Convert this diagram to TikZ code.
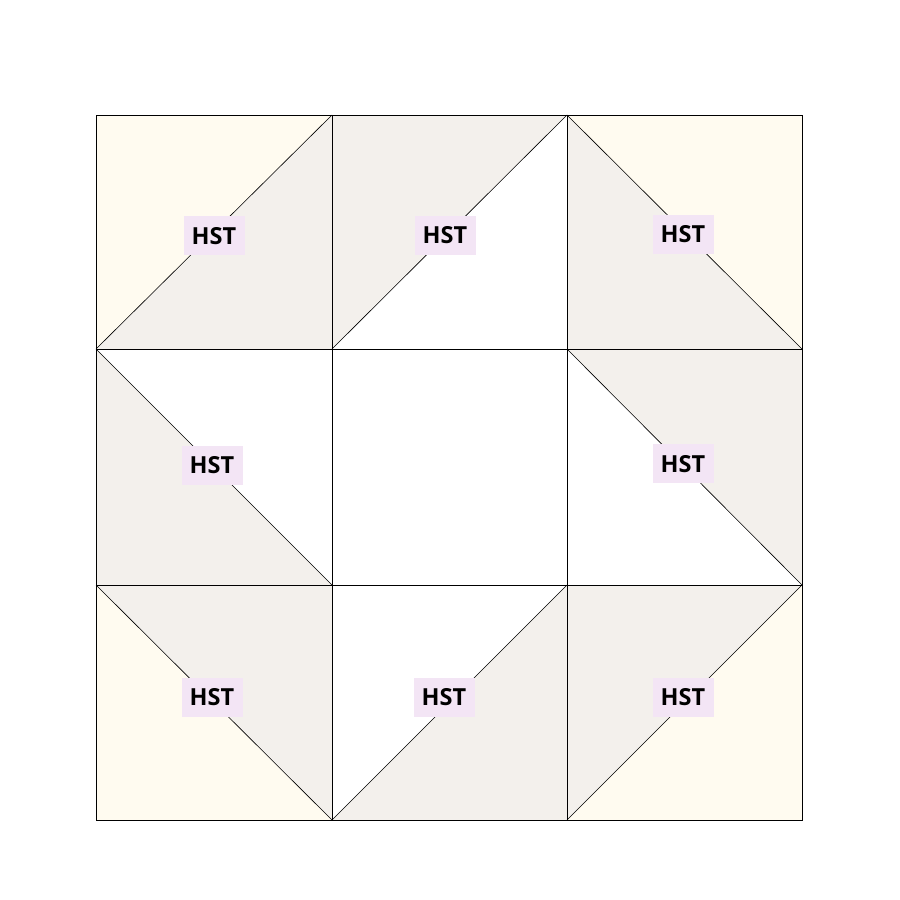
\documentclass[tikz,border=0pt]{standalone}
\usepackage{fontspec}
\setmainfont{Open Sans}
\begin{document}
\begin{tikzpicture}[x=1pt,y=-1pt,
  line width=0.8pt,
  lbl/.style={fill=lavc, font=\bfseries\fontsize{23.5}{23.5}\selectfont, text height=17pt, text depth=0pt, inner sep=0pt, minimum width=61pt, minimum height=39pt}]
\definecolor{creamc}{HTML}{FFFBF0}
\definecolor{grayc}{HTML}{F3F0EC}
\definecolor{lavc}{HTML}{F3E5F5}
\useasboundingbox (0,0) rectangle (900,900);
\fill[white] (0,0) rectangle (900,900);
% coordinates
\def\xa{96}\def\xb{332}\def\xc{567}\def\xd{802}
\def\ya{115}\def\yb{349}\def\yc{585}\def\yd{820}
% top-left
\fill[creamc] (\xa,\ya) -- (\xb,\ya) -- (\xa,\yb) -- cycle;
\fill[grayc] (\xb,\ya) -- (\xb,\yb) -- (\xa,\yb) -- cycle;
% top-middle
\fill[grayc] (\xb,\ya) -- (\xc,\ya) -- (\xb,\yb) -- cycle;
% top-right
\fill[creamc] (\xc,\ya) -- (\xd,\ya) -- (\xd,\yb) -- cycle;
\fill[grayc] (\xc,\ya) -- (\xd,\yb) -- (\xc,\yb) -- cycle;
% middle-left
\fill[grayc] (\xa,\yb) -- (\xb,\yc) -- (\xa,\yc) -- cycle;
% middle-right
\fill[grayc] (\xc,\yb) -- (\xd,\yb) -- (\xd,\yc) -- cycle;
% bottom-left
\fill[grayc] (\xa,\yc) -- (\xb,\yc) -- (\xb,\yd) -- cycle;
\fill[creamc] (\xa,\yc) -- (\xb,\yd) -- (\xa,\yd) -- cycle;
% bottom-middle
\fill[grayc] (\xc,\yc) -- (\xc,\yd) -- (\xb,\yd) -- cycle;
% bottom-right
\fill[grayc] (\xc,\yc) -- (\xd,\yc) -- (\xc,\yd) -- cycle;
\fill[creamc] (\xd,\yc) -- (\xd,\yd) -- (\xc,\yd) -- cycle;
% grid
\draw (\xa,\ya) rectangle (\xd,\yd);
\draw (\xb,\ya) -- (\xb,\yd) (\xc,\ya) -- (\xc,\yd);
\draw (\xa,\yb) -- (\xd,\yb) (\xa,\yc) -- (\xd,\yc);
% diagonals
\draw[line width=0.6pt] (\xa,\yb) -- (\xb,\ya);
\draw[line width=0.6pt] (\xb,\yb) -- (\xc,\ya);
\draw[line width=0.6pt] (\xc,\ya) -- (\xd,\yb);
\draw[line width=0.6pt] (\xa,\yb) -- (\xb,\yc);
\draw[line width=0.6pt] (\xc,\yb) -- (\xd,\yc);
\draw[line width=0.6pt] (\xa,\yc) -- (\xb,\yd);
\draw[line width=0.6pt] (\xb,\yd) -- (\xc,\yc);
\draw[line width=0.6pt] (\xc,\yd) -- (\xd,\yc);
% labels
\node[lbl] (h1) at (214,235.5) {HST};
\node[lbl] (h2) at (445,235) {HST};
\node[lbl] (h3) at (683,234) {HST};
\node[lbl] (h4) at (212,465) {HST};
\node[lbl] (h5) at (683,463.5) {HST};
\node[lbl] (h6) at (212,697) {HST};
\node[lbl] (h7) at (444,697) {HST};
\node[lbl] (h8) at (683,697) {HST};
\end{tikzpicture}
\end{document}
